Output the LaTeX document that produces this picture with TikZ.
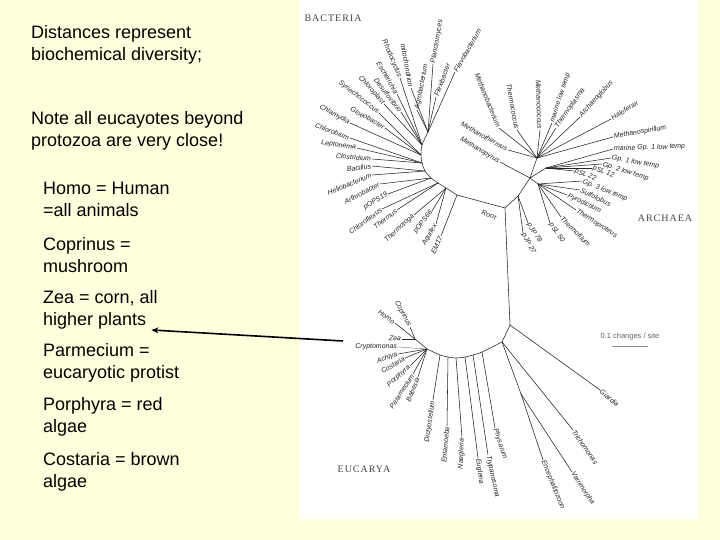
\documentclass[tikz,border=0pt]{standalone}
\usepackage{fontspec}
\usepackage{tikz}
\usetikzlibrary{arrows.meta}
\setmainfont{Liberation Sans}
\newfontfamily\cladefont[LetterSpace=10]{Liberation Serif}
\definecolor{bg}{RGB}{255, 255, 221}
\definecolor{ink}{RGB}{35, 35, 35}
\tikzset{
  note/.style={inner sep=0pt, anchor=base west, font=\fontsize{18}{22}\selectfont},
  leaf/.style={inner sep=0.8pt, text=ink, font=\itshape\fontsize{7}{8}\selectfont},
  clade/.style={inner sep=0pt, text=ink!85, font=\cladefont\fontsize{10}{12}\selectfont},
  branch/.style={line width=0.55pt, color=ink},
  pointer/.style={line width=1.6pt, color=black, -{Stealth[length=7pt, width=6pt]}}
}

\begin{document}
\begin{tikzpicture}
\useasboundingbox (0pt, 0pt) rectangle (720pt, -540pt);
\fill [bg] (0pt, 0pt) rectangle (720pt, -540pt);
\fill [white] (300pt, 0pt) rectangle (698pt, -519pt);
% left hand notes
\node (t1) [note] at (31pt, -39pt) {Distances represent};
\node (t2) [note] at (31pt, -61pt) {biochemical diversity;};
\node (t3) [note] at (31pt, -125pt) {Note all eucayotes beyond};
\node (t4) [note] at (31pt, -147pt) {protozoa are very close!};
\node (hom1) [note] at (43pt, -195pt) {Homo = Human};
\node (hom2) [note] at (43pt, -217pt) {=all animals};
\node (cop1) [note] at (43pt, -250pt) {Coprinus =};
\node (cop2) [note] at (43pt, -272pt) {mushroom};
\node (zea1) [note] at (43pt, -303pt) {Zea = corn, all};
\node (zea2) [note] at (43pt, -325pt) {higher plants};
\node (par1) [note] at (43pt, -356pt) {Parmecium =};
\node (par2) [note] at (43pt, -378pt) {eucaryotic protist};
\node (por1) [note] at (43pt, -410pt) {Porphyra = red};
\node (por2) [note] at (43pt, -432pt) {algae};
\node (cos1) [note] at (43pt, -465pt) {Costaria = brown};
\node (cos2) [note] at (43pt, -487pt) {algae};
% domains
\node (bact) [clade] at (333pt, -18pt) {BACTERIA};
\node (arch) [clade] at (665pt, -218pt) {ARCHAEA};
\node (euca) [clade] at (364pt, -469pt) {EUCARYA};
% hubs
\coordinate (b1) at (428pt, -132pt);
\coordinate (b2) at (422pt, -145pt);
\coordinate (b3) at (421pt, -155pt);
\coordinate (b4) at (422pt, -163pt);
\coordinate (b5) at (425pt, -171pt);
\coordinate (b6) at (431pt, -178pt);
\coordinate (b7) at (438pt, -183pt);
\coordinate (b8) at (446pt, -188pt);
\coordinate (b9) at (457pt, -195pt);
\coordinate (root) at (505pt, -208pt);
\coordinate (a0) at (518pt, -196pt);
\coordinate (a1) at (530pt, -178pt);
\coordinate (e1) at (537pt, -158pt);
\coordinate (l1) at (546pt, -168pt);
\coordinate (c1) at (538pt, -184pt);
\coordinate (eu1) at (510pt, -325pt);
\coordinate (eu2) at (502pt, -342pt);
\coordinate (mh) at (521pt, -394pt);
\coordinate (ph) at (482pt, -352pt);
\coordinate (ty) at (473pt, -355pt);
\coordinate (eg) at (465pt, -357pt);
\coordinate (ng) at (456pt, -358pt);
\coordinate (en) at (448pt, -357pt);
\coordinate (di) at (440pt, -355pt);
\coordinate (cr) at (427pt, -349pt);
\coordinate (cz) at (415pt, -339pt);
% backbone
\draw [branch] plot [smooth] coordinates {(b1) (b2) (b3) (b4) (b5) (b6) (b7) (b8) (b9)};
\draw [branch] (b9) -- (root);
\draw [branch] (root) -- (a0) -- (a1) -- (e1);
\draw [branch] (a1) -- (c1);
\draw [branch] (a1) -- (l1);
\draw [branch] (root) -- (eu1) -- (eu2) -- (mh);
\draw [branch] plot [smooth] coordinates {(eu2) (ph) (ty) (eg) (ng) (en) (di) (cr)};
\draw [branch] (cr) -- (cz);
\node (rootlbl) [leaf, rotate=-20] at (489pt, -215pt) {Root};
% bacteria
\node (planct) [leaf, rotate=80, anchor=west] at (433pt, -64pt) {Planctomyces};
\node (flavo) [leaf, rotate=60, anchor=west] at (455pt, -72pt) {Flavobacterium};
\node (flexi) [leaf, rotate=70, anchor=west] at (436pt, -97pt) {Flexibacter};
\node (agro) [leaf, rotate=79, anchor=west] at (417pt, -110pt) {Agrobacterium};
\node (mito) [leaf, rotate=-80, anchor=east] at (411pt, -88pt) {mitochondrion};
\node (rhodo) [leaf, rotate=-67, anchor=east] at (400pt, -78pt) {Rhodocyclus};
\node (esch) [leaf, rotate=-60, anchor=east] at (397pt, -94pt) {Escherichia};
\node (desul) [leaf, rotate=-52, anchor=east] at (401pt, -112pt) {Desulfovibrio};
\node (chlpl) [leaf, rotate=-48, anchor=east] at (384pt, -104pt) {Chloroplast};
\node (synec) [leaf, rotate=-38, anchor=east] at (379pt, -113pt) {Synechococcus};
\node (gloeo) [leaf, rotate=-30, anchor=east] at (385pt, -128pt) {Gloeobacter};
\node (chlam) [leaf, rotate=-28, anchor=east] at (350pt, -123pt) {Chlamydia};
\node (chlor) [leaf, rotate=-20, anchor=east] at (350pt, -138pt) {Chlorobium};
\node (lepto) [leaf, rotate=-8, anchor=east] at (357pt, -148pt) {Leptonema};
\node (clost) [leaf, rotate=-5, anchor=east] at (372pt, -159pt) {Clostridium};
\node (bacil) [leaf, rotate=8, anchor=east] at (372pt, -166pt) {Bacillus};
\node (helio) [leaf, rotate=22, anchor=east] at (372pt, -175pt) {Heliobacterium};
\node (arthr) [leaf, rotate=27, anchor=east] at (380pt, -184pt) {Arthrobacter};
\node (pops19) [leaf, rotate=30, anchor=east] at (388pt, -194pt) {pOPS19};
\node (chlfx) [leaf, rotate=36, anchor=east] at (382pt, -209pt) {Chloroflexus};
\node (therm) [leaf, rotate=38, anchor=east] at (397pt, -210pt) {Thermus};
\node (ttoga) [leaf, rotate=43, anchor=east] at (414pt, -215pt) {Thermotoga};
\node (pops66) [leaf, rotate=52, anchor=east] at (432pt, -211pt) {pOPS66};
\node (aquif) [leaf, rotate=60, anchor=east] at (436pt, -224pt) {Aquifex};
\node (em17) [leaf, rotate=65, anchor=east] at (441pt, -236pt) {EM17};
\draw [branch] (b1) -- (planct.west);
\draw [branch] (b1) -- (flavo.west);
\draw [branch] (b1) -- (flexi.west);
\draw [branch] (b1) -- (agro.west);
\draw [branch] (b1) -- (mito.east);
\draw [branch] (b2) -- (rhodo.east);
\draw [branch] (b2) -- (esch.east);
\draw [branch] (b2) -- (desul.east);
\draw [branch] (b2) -- (chlpl.east);
\draw [branch] (b3) -- (synec.east);
\draw [branch] (b3) -- (gloeo.east);
\draw [branch] (b3) -- (chlam.east);
\draw [branch] (b4) -- (chlor.east);
\draw [branch] (b4) -- (lepto.east);
\draw [branch] (b4) -- (clost.east);
\draw [branch] (b5) -- (bacil.east);
\draw [branch] (b5) -- (helio.east);
\draw [branch] (b6) -- (arthr.east);
\draw [branch] (b6) -- (pops19.east);
\draw [branch] (b7) -- (chlfx.east);
\draw [branch] (b7) -- (therm.east);
\draw [branch] (b8) -- (ttoga.east);
\draw [branch] (b8) -- (pops66.east);
\draw [branch] (b8) -- (aquif.east);
\draw [branch] (b9) -- (em17.east);
% archaea
\node (mpyr) [leaf, rotate=-30, anchor=east] at (500pt, -162pt) {Methanopyrus};
\node (mthm) [leaf, rotate=-30, anchor=east] at (508pt, -150pt) {Methanothermus};
\node (mbac) [leaf, rotate=-68, anchor=east] at (499pt, -128pt) {Methanobacterium};
\node (tcoc) [leaf, rotate=-80, anchor=east] at (517pt, -130pt) {Thermococcus};
\node (mcoc) [leaf, rotate=-88, anchor=east] at (540pt, -130pt) {Methanococcus};
\node (mlow) [leaf, rotate=72, anchor=west] at (552pt, -123pt) {marine low temp};
\node (tpla) [leaf, rotate=55, anchor=west] at (556pt, -128pt) {Thermoplasma};
\node (aglo) [leaf, rotate=48, anchor=west] at (580pt, -117pt) {Archaeoglobus};
\node (hfer) [leaf, rotate=32, anchor=west] at (611pt, -119pt) {Haloferax};
\node (mspi) [leaf, rotate=10, anchor=west] at (613pt, -137pt) {Methanospirillum};
\node (mgp1) [leaf, rotate=2, anchor=west] at (613pt, -149pt) {marine Gp. 1 low temp};
\node (gp1) [leaf, rotate=-10, anchor=west] at (611pt, -158pt) {Gp. 1 low temp};
\node (gp2) [leaf, rotate=-18, anchor=west] at (602pt, -164pt) {Gp. 2 low temp};
\node (psl12) [leaf, rotate=-20, anchor=west] at (592pt, -168pt) {pSL 12};
\node (psl22) [leaf, rotate=-20, anchor=west] at (574pt, -171pt) {pSL 22};
\node (gp3) [leaf, rotate=-22, anchor=west] at (582pt, -181pt) {Gp. 3 low temp};
\node (sulf) [leaf, rotate=-25, anchor=west] at (580pt, -190pt) {Sulfolobus};
\node (pyro) [leaf, rotate=-26, anchor=west] at (567pt, -195pt) {Pyrodictium};
\node (tpro) [leaf, rotate=-33, anchor=west] at (576pt, -210pt) {Thermoproteus};
\node (tfil) [leaf, rotate=-45, anchor=west] at (561pt, -217pt) {Thermofilum};
\node (psl50) [leaf, rotate=-56, anchor=west] at (550pt, -223pt) {pSL 50};
\node (pjp78) [leaf, rotate=-58, anchor=west] at (528pt, -223pt) {pJP 78};
\node (pjp27) [leaf, rotate=-62, anchor=west] at (523pt, -233pt) {pJP 27};
\draw [branch] (a1) -- (mpyr.east);
\draw [branch] (e1) -- (mthm.east);
\draw [branch] (e1) -- (mbac.east);
\draw [branch] (e1) -- (tcoc.east);
\draw [branch] (e1) -- (mcoc.east);
\draw [branch] (e1) -- (mlow.west);
\draw [branch] (e1) -- (tpla.west);
\draw [branch] (e1) -- (aglo.west);
\draw [branch] (e1) -- (hfer.west);
\draw [branch] (e1) -- (mspi.west);
\draw [branch] (l1) -- (mgp1.west);
\draw [branch] (l1) -- (gp1.west);
\draw [branch] (l1) -- (gp2.west);
\draw [branch] (l1) -- (psl12.west);
\draw [branch] (l1) -- (psl22.west);
\draw [branch] (c1) -- (gp3.west);
\draw [branch] (c1) -- (sulf.west);
\draw [branch] (c1) -- (pyro.west);
\draw [branch] (c1) -- (tpro.west);
\draw [branch] (c1) -- (tfil.west);
\draw [branch] (c1) -- (psl50.west);
\draw [branch] (a0) -- (pjp78.west);
\draw [branch] (a0) -- (pjp27.west);
% eucarya
\node (giar) [leaf, rotate=-40, anchor=west] at (600pt, -390pt) {Giardia};
\node (trich) [leaf, rotate=-55, anchor=west] at (573pt, -430pt) {Trichomonas};
\node (ence) [leaf, rotate=-68, anchor=west] at (543pt, -460pt) {Encephalitozoon};
\node (vair) [leaf, rotate=-57, anchor=west] at (572pt, -472pt) {Vairimorpha};
\node (phys) [leaf, rotate=-72, anchor=west] at (495pt, -428pt) {Physarum};
\node (tryp) [leaf, rotate=-78, anchor=west] at (488pt, -455pt) {Trypanosoma};
\node (eugl) [leaf, rotate=-83, anchor=west] at (478pt, -458pt) {Euglena};
\node (naeg) [leaf, rotate=88, anchor=east] at (462pt, -438pt) {Naegleria};
\node (enta) [leaf, rotate=85, anchor=east] at (447pt, -426pt) {Entamoeba};
\node (dict) [leaf, rotate=82, anchor=east] at (433pt, -400pt) {Dictyostelium};
\node (copr) [leaf, rotate=-62, anchor=east] at (410pt, -327pt) {Coprinus};
\node (homo) [leaf, rotate=-35, anchor=east] at (395pt, -323pt) {Homo};
\node (zea) [leaf, rotate=-5, anchor=east] at (402pt, -339pt) {Zea};
\node (cryp) [leaf, rotate=0, anchor=east] at (398pt, -347pt) {Cryptomonas};
\node (achl) [leaf, rotate=20, anchor=east] at (398pt, -354pt) {Achlya};
\node (cost) [leaf, rotate=30, anchor=east] at (405pt, -358pt) {Costaria};
\node (porp) [leaf, rotate=42, anchor=east] at (410pt, -366pt) {Porphyra};
\node (para) [leaf, rotate=57, anchor=east] at (413pt, -374pt) {Paramecium};
\node (babe) [leaf, rotate=68, anchor=east] at (418pt, -377pt) {Babesia};
\draw [branch] (eu1) -- (giar.west);
\draw [branch] (eu2) -- (trich.west);
\draw [branch] (mh) -- (ence.west);
\draw [branch] (mh) -- (vair.west);
\draw [branch] (ph) -- (phys.west);
\draw [branch] (ty) -- (tryp.west);
\draw [branch] (eg) -- (eugl.west);
\draw [branch] (ng) -- (naeg.east);
\draw [branch] (en) -- (enta.east);
\draw [branch] (di) -- (dict.east);
\draw [branch] (cz) -- (copr.east);
\draw [branch] (cz) -- (homo.east);
\draw [branch] (cz) -- (zea.east);
\draw [branch, color=ink!50] (cr) -- (cryp.east);
\draw [branch] (cr) -- (achl.east);
\draw [branch] (cr) -- (cost.east);
\draw [branch] (cr) -- (porp.east);
\draw [branch] (cr) -- (para.east);
\draw [branch] (cr) -- (babe.east);
% scale
\node (scale) [leaf, font=\fontsize{7.5}{9}\selectfont, text=ink!70] at (630pt, -337pt) {0.1 changes / site};
\coordinate (sb1) at (612pt, -346pt);
\coordinate (sb2) at (648pt, -346pt);
\draw [line width=0.5pt, color=ink!50] (sb1) -- (sb2);
% pointer to Zea
\coordinate (zeaptr) at (343pt, -341pt);
\draw [pointer] (zeaptr) -- ([shift={(5pt, -5pt)}]zea2.base east);
\end{tikzpicture}
\end{document}
